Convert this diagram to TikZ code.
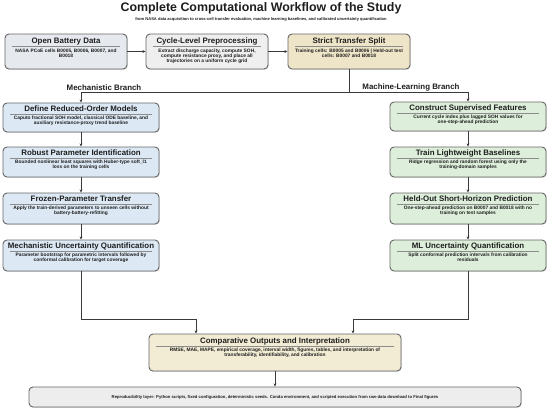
\documentclass[tikz,border=0pt]{standalone}
\usepackage{fontspec}
\setmainfont{Liberation Sans}
\usetikzlibrary{arrows.meta,shadows,calc}
\definecolor{bordc}{HTML}{666666}
\definecolor{linec}{HTML}{3A3A3A}
\definecolor{txtc}{HTML}{1E1E1E}
\definecolor{fgray}{HTML}{E6E9EE}
\definecolor{fgray2}{HTML}{EFEFEF}
\definecolor{fbeige}{HTML}{EEE5C8}
\definecolor{fblue}{HTML}{DCE9F5}
\definecolor{fgreen}{HTML}{DDEFDB}
\definecolor{fcomp}{HTML}{F2ECD4}
\definecolor{frepro}{HTML}{EDEDED}
\tikzset{
  boxst/.style={draw=bordc, line width=0.9pt, rounded corners=4pt, inner sep=0pt,
    drop shadow={shadow xshift=0.8pt, shadow yshift=-0.8pt, opacity=0.25}},
  titlest/.style={font=\bfseries\fontsize{7.9}{9}\selectfont, text=txtc, inner sep=0pt},
  bodyst/.style={font=\bfseries\fontsize{4.85}{5.2}\selectfont, text=txtc, inner sep=0pt, align=center},
  sepst/.style={draw=black!45, line width=0.35pt},
  arr/.style={draw=linec, line width=0.8pt, -{Stealth[length=3.2pt,width=2.8pt]}},
  ln/.style={draw=linec, line width=0.8pt},
  branchst/.style={font=\bfseries\fontsize{7.9}{9}\selectfont, text=txtc, inner sep=0pt},
}
\newcommand\wfbox[8]{%
  \pgfmathsetmacro\bw{#4-#2}\pgfmathsetmacro\bh{#5-#3}%
  \pgfmathsetmacro\cx{(#2+#4)/2}\pgfmathsetmacro\cy{(#3+#5)/2}%
  \node[boxst, fill=#6, minimum width=\bw pt, minimum height=\bh pt] (#1) at (\cx,\cy) {};
  \node[titlest] (#1-t) at ([yshift=-\toff pt]#1.north) {#7};
  \draw[sepst] ([xshift=7pt,yshift=-\toff pt-4.6pt]#1.north west) -- ([xshift=-7pt,yshift=-\toff pt-4.6pt]#1.north east);
  \node[bodyst, anchor=north] (#1-b) at ([yshift=-\toff pt-6.6pt]#1.north) {#8};
}
\begin{document}
\begin{tikzpicture}[x=1pt,y=-1pt]
\useasboundingbox[fill=white] (0,0) rectangle (550,410);
\node[font=\bfseries\fontsize{12.4}{14}\selectfont, text=txtc, inner sep=0pt] (title) at (261,8) {Complete Computational Workflow of the Study};
\node[font=\bfseries\fontsize{4.05}{5}\selectfont, text=txtc, inner sep=0pt] (subtitle) at (261,19.2) {from NASA data acquisition to cross-cell transfer evaluation, machine learning baselines, and calibrated uncertainty quantification};

\def\toff{8.4}
\wfbox{open}{5}{34}{127}{69}{fgray}{Open Battery Data}{NASA PCoE cells B0005, B0006, B0007, and\\B0018}
\wfbox{prep}{146}{34}{268}{69}{fgray2}{Cycle-Level Preprocessing}{Extract discharge capacity, compute SOH,\\compute resistance proxy, and place all\\trajectories on a uniform cycle grid}
\wfbox{split}{288}{34}{410}{69}{fbeige}{Strict Transfer Split}{Training cells: B0005 and B0006 | Held-out test\\cells: B0007 and B0018}

\def\toff{6.6}
\wfbox{rom}{3}{103}{159}{132}{fblue}{Define Reduced-Order Models}{Caputo fractional SOH model, classical ODE baseline, and\\auxiliary resistance-proxy trend baseline}
\wfbox{rpi}{3}{147}{159}{177}{fblue}{Robust Parameter Identification}{Bounded nonlinear least squares with Huber-type soft\_l1\\loss on the training cells}
\wfbox{fpt}{3}{193}{159}{224}{fblue}{Frozen-Parameter Transfer}{Apply the train-derived parameters to unseen cells without\\battery-battery-refitting}
\wfbox{muq}{3}{240}{159}{271}{fblue}{Mechanistic Uncertainty Quantification}{Parameter bootstrap for parametric intervals followed by\\conformal calibration for target coverage}

\wfbox{csf}{390}{102}{546}{131}{fgreen}{Construct Supervised Features}{Current cycle index plus lagged SOH values for\\one-step-ahead prediction}
\wfbox{tlb}{390}{147}{546}{177}{fgreen}{Train Lightweight Baselines}{Ridge regression and random forest using only the\\training-domain samples}
\wfbox{hsp}{390}{193}{546}{224}{fgreen}{Held-Out Short-Horizon Prediction}{One-step-ahead prediction on B0007 and B0018 with no\\training on test samples}
\wfbox{mluq}{390}{240}{546}{271}{fgreen}{ML Uncertainty Quantification}{Split conformal prediction intervals from calibration\\residuals}

\def\toff{7.8}
\wfbox{comp}{149}{334}{401}{371}{fcomp}{Comparative Outputs and Interpretation}{RMSE, MAE, MAPE, empirical coverage, interval width, figures, tables, and interpretation of\\transferability, identifiability, and calibration}

\node[boxst, fill=frepro, minimum width=492pt, minimum height=20pt] (repro) at (275,397) {};
\node[bodyst, font=\bfseries\fontsize{4.2}{5}\selectfont] (repro-t) at (repro.center) {Reproducibility layer: Python scripts, fixed configuration, deterministic seeds. Conda environment, and scripted execution from raw-data download to Final figures};

% connectors
\draw[arr] (open.east) -- (prep.west);
\draw[arr] (prep.east) -- (split.west);
\coordinate (fork) at (split.south |- 0,92);
\draw[ln] (split.south) -- (fork);
\draw[arr] (fork) -| (rom.north);
\draw[arr] (fork) -| (csf.north);
\node[branchst, anchor=south] (mechlab) at (104,91) {Mechanistic Branch};
\node[branchst, anchor=south] (mllab) at (411,91) {Machine-Learning Branch};

\draw[arr] (rom.south) -- (rpi.north);
\draw[arr] (rpi.south) -- (fpt.north);
\draw[arr] (fpt.south) -- (muq.north);
\draw[arr] (csf.south) -- (tlb.north);
\draw[arr] (tlb.south) -- (hsp.north);
\draw[arr] (hsp.south) -- (mluq.north);

\coordinate (lj) at (196,319);
\coordinate (rj) at (353,319);
\draw[arr] (muq.south) |- (lj) -- (lj |- comp.north);
\draw[arr] (mluq.south) |- (rj) -- (rj |- comp.north);
\draw[arr] (comp.south) -- (repro.north);
\end{tikzpicture}
\end{document}
